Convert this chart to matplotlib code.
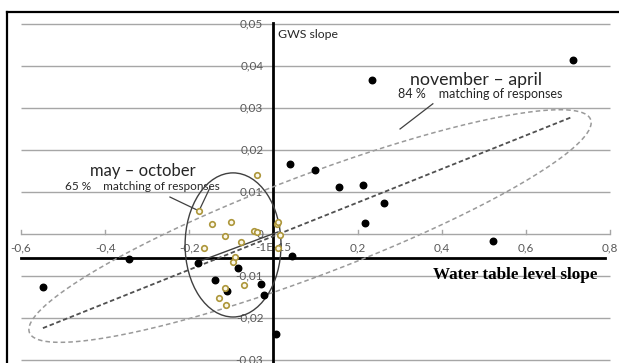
import matplotlib
matplotlib.use('Agg')
import matplotlib.pyplot as plt
from matplotlib.patches import Ellipse
from matplotlib.lines import Line2D
import numpy as np

plt.rcParams['font.family'] = ['Lato', 'DejaVu Sans']

# ---- data ----
# november - april (black dots)
nov_x = [0.712, 0.234, 0.099, 0.040, 0.155, 0.213, 0.263, 0.218, 0.522,
         -0.548, -0.344, -0.179, -0.084, -0.140, -0.110, -0.029, -0.022,
         0.007, 0.044]
nov_y = [0.0414, 0.0367, 0.0152, 0.0167, 0.0113, 0.0117, 0.0074, 0.0026, -0.0017,
         -0.0126, -0.0060, -0.0069, -0.0081, -0.0110, -0.0136, -0.0119, -0.0145,
         -0.0238, -0.0052]

# may - october (open circles)
may_x = [-0.177, -0.146, -0.101, -0.115, -0.077, -0.165, -0.046, -0.040,
         0.009, 0.010, 0.016, 0.011, -0.091, -0.096, -0.115, -0.129, -0.113,
         -0.070, -0.039]
may_y = [0.0055, 0.0024, 0.0029, -0.0005, -0.0020, -0.0033, 0.0007, 0.0005,
         0.0024, 0.0029, -0.0003, -0.0033, -0.0054, -0.0066, -0.0128, -0.0152,
         -0.0169, -0.0121, 0.0140]

# trend lines (end points)
nov_trend_x = [-0.548, 0.711]
nov_trend_y = [-0.0224, 0.0279]
may_trend_x = [-0.181, 0.011]
may_trend_y = [-0.0067, 0.0005]

x_ticks = [-0.6, -0.4, -0.2, 0.0, 0.2, 0.4, 0.6, 0.8]
x_tick_labels = ['-0,6', '-0,4', '-0,2', '-1E-15', '0,2', '0,4', '0,6', '0,8']
y_ticks = [0.05, 0.04, 0.03, 0.02, 0.01, 0.0, -0.01, -0.02, -0.03]
y_tick_labels = ['0,05', '0,04', '0,03', '0,02', '0,01', '0', '-0,01', '-0,02', '-0,03']

# ---- figure ----
fig = plt.figure(figsize=(6.19, 3.63), dpi=100)
ax = fig.add_axes([0, 0, 1, 1])
ax.set_xlim(-0.650, 0.8215)
ax.set_ylim(-0.0307, 0.0557)
ax.axis('off')

grid_c = '#a6a6a6'
ax.hlines(y_ticks, -0.6, 0.8, color=grid_c, lw=1.0, zorder=1)
for xt in x_ticks:
    ax.plot([xt, xt], [0, 0.0009], color=grid_c, lw=1.0, zorder=1)

for yt, lab in zip(y_ticks, y_tick_labels):
    ax.text(-0.024, yt, lab, ha='right', va='center', fontsize=8.5,
            color='#595959', zorder=2)
for xt, lab in zip(x_ticks, x_tick_labels):
    ax.text(xt, -0.0032, lab, ha='center', va='center', fontsize=8.5,
            color='#595959', zorder=2)

# thick hand drawn axes
ax.plot([-0.6, 0.788], [-0.0057, -0.0057], color='black', lw=2.0, zorder=3)
ax.plot([-0.002, -0.002], [0.0503, -0.031], color='black', lw=2.0, zorder=3)

# big dashed ellipse (november - april)
t = np.linspace(0, 2 * np.pi, 300)
cx, cy = 0.087, 0.0019
ax_e = 0.667 * np.cos(t) - 0.0423 * np.sin(t) + cx
ay_e = 0.02536 * np.cos(t) + 0.0111 * np.sin(t) + cy
ax.plot(ax_e, ay_e, color='#9a9a9a', lw=1.1, ls=(0, (3, 2)), zorder=4)

# solid ellipse (may - october)
ax.add_patch(Ellipse((-0.096, -0.0026), 0.228, 0.0343, fill=False,
                     edgecolor='#404040', lw=1.0, zorder=4))

# trend lines
ax.plot(nov_trend_x, nov_trend_y, color='#505050', lw=1.3, ls=(0, (2.5, 1.5)), zorder=4)
ax.plot(may_trend_x, may_trend_y, color='#404040', lw=1.0, zorder=4)

# points
ax.scatter(nov_x, nov_y, s=22, color='black', zorder=6)
ax.scatter(may_x, may_y, s=16, facecolor='#fbf8ea', edgecolor='#ad963a',
           linewidth=1.2, zorder=6)

# leader lines
ax.plot([0.379, 0.301], [0.0310, 0.0250], color='#404040', lw=0.9, zorder=5)
ax.plot([-0.246, -0.177], [0.0088, 0.0055], color='#404040', lw=0.9, zorder=5)
ax.plot([-0.151, -0.177], [0.0110, 0.0055], color='#404040', lw=0.9, zorder=5)

# texts
ax.text(0.0114, 0.0474, 'GWS slope', ha='left', va='center', fontsize=8.8,
        color='#262626')
ax.text(0.482, 0.0367, 'november \u2013 april', ha='center', va='center',
        fontsize=12.8, color='#262626')
ax.text(0.491, 0.0333, '84 %    matching of responses', ha='center', va='center',
        fontsize=9, color='#262626')
ax.text(-0.310, 0.0150, 'may \u2013 october', ha='center', va='center',
        fontsize=12, color='#262626')
ax.text(-0.312, 0.0114, '65 %    matching of responses', ha='center', va='center',
        fontsize=8.5, color='#262626')
ax.text(0.575, -0.0098, 'Water table level slope', ha='center', va='center',
        fontsize=12.3, fontweight='bold', family='Liberation Serif', color='black')

# outer frame (left and top edges visible)
fig.add_artist(Line2D([7 / 619, 7 / 619], [0, 1 - 12 / 363], color='black', lw=1.6))
fig.add_artist(Line2D([7 / 619, 1], [1 - 12 / 363, 1 - 12 / 363], color='black', lw=1.6))

fig.savefig('out.png', dpi=100)
